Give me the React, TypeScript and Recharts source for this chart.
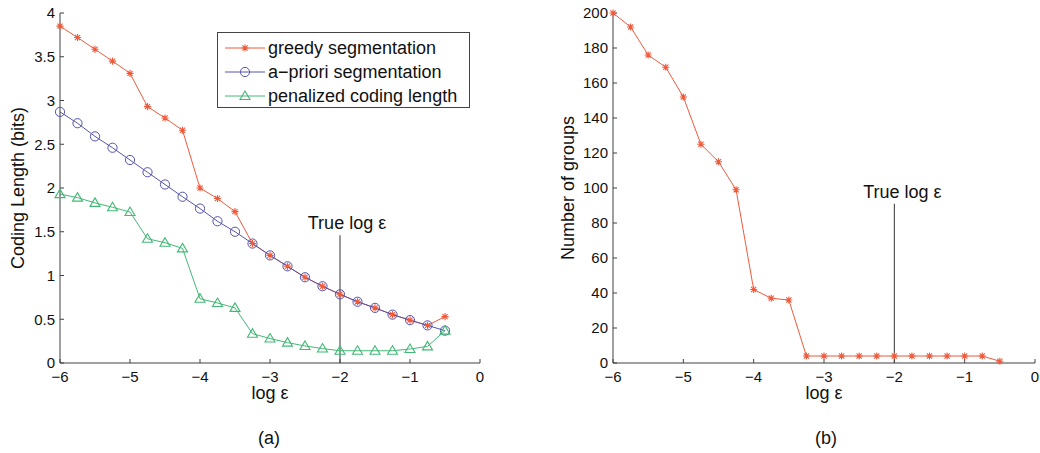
import React from 'react';
import { LineChart, Line, XAxis, YAxis, ReferenceLine, Legend } from 'recharts';

// log epsilon sample positions
const logEps = [-6, -5.75, -5.5, -5.25, -5, -4.75, -4.5, -4.25, -4, -3.75, -3.5, -3.25, -3, -2.75, -2.5, -2.25, -2, -1.75, -1.5, -1.25, -1, -0.75, -0.5];

// (a) coding length (bits)
const greedy = [3.85, 3.72, 3.585, 3.45, 3.31, 2.93, 2.8, 2.66, 2.0, 1.88, 1.73, 1.365, 1.23, 1.105, 0.98, 0.877, 0.785, 0.7, 0.63, 0.553, 0.49, 0.43, 0.53];
const apriori = [2.87, 2.74, 2.59, 2.46, 2.32, 2.18, 2.04, 1.9, 1.765, 1.62, 1.5, 1.365, 1.23, 1.105, 0.98, 0.877, 0.785, 0.7, 0.63, 0.553, 0.49, 0.43, 0.37];
const penalized = [1.93, 1.89, 1.83, 1.78, 1.725, 1.42, 1.375, 1.31, 0.735, 0.686, 0.63, 0.335, 0.28, 0.233, 0.195, 0.165, 0.14, 0.14, 0.14, 0.14, 0.16, 0.19, 0.37];

// (b) number of groups
const groups = [200, 192, 176, 169, 152, 125, 115, 99, 42, 37, 36, 4, 4, 4, 4, 4, 4, 4, 4, 4, 4, 4, 1];

const xTicks = [-6, -5, -4, -3, -2, -1, 0];
const yTicksA = [0, 0.5, 1, 1.5, 2, 2.5, 3, 3.5, 4];
const yTicksB = [0, 20, 40, 60, 80, 100, 120, 140, 160, 180, 200];

const trueLogEps = -2;
const trueTopA = 1.46;
const trueTopB = 91;

const seriesA = [
  { key: 'greedy', name: 'greedy segmentation', color: '#ee5a3c', marker: 'star' },
  { key: 'apriori', name: 'a\u2212priori segmentation', color: '#5454ae', marker: 'circle' },
  { key: 'penalized', name: 'penalized coding length', color: '#43b976', marker: 'triangle' },
];

const dataA = logEps.map((x, i) => ({ x, greedy: greedy[i], apriori: apriori[i], penalized: penalized[i] }));
const dataB = logEps.map((x, i) => ({ x, groups: groups[i] }));

const FONT = '"Liberation Sans", Arial, Helvetica, sans-serif';
const AXIS = '#404040';
const TEXT = '#111';

const fmt = (v: number) => String(v).replace('-', '\u2212');

function markerPath(kind: string, cx: number, cy: number) {
  if (kind === 'star') {
    const r = 3.6;
    const d = r * 0.72;
    return `M${cx - r},${cy}H${cx + r}M${cx},${cy - r}V${cy + r}M${cx - d},${cy - d}L${cx + d},${cy + d}M${cx - d},${cy + d}L${cx + d},${cy - d}`;
  }
  if (kind === 'triangle') {
    return `M${cx},${cy - 5}L${cx + 5},${cy + 3.5}L${cx - 5},${cy + 3.5}Z`;
  }
  return '';
}

function makeDot(kind: string, color: string) {
  return (props: any) => {
    const { cx, cy, index } = props;
    if (cx == null || cy == null) return <g key={`d${index}`} />;
    if (kind === 'circle') {
      return <circle key={`d${index}`} cx={cx} cy={cy} r={4.6} stroke={color} strokeWidth={1} fill="none" />;
    }
    return <path key={`d${index}`} d={markerPath(kind, cx, cy)} stroke={color} strokeWidth={1.1} fill="none" />;
  };
}

function LegendBox() {
  return (
    <div
      style={{
        border: '1px solid #444',
        background: '#fff',
        width: 251,
        height: 74,
        boxSizing: 'content-box',
        fontFamily: FONT,
        fontSize: 18,
        color: TEXT,
      }}
    >
      {seriesA.map((s, i) => (
        <div key={s.key} style={{ position: 'relative', height: 24, marginTop: i === 0 ? 3 : 0, display: 'flex', alignItems: 'center' }}>
          <svg width={50} height={24} style={{ display: 'block', flex: 'none' }}>
            <line x1={7} y1={12} x2={47} y2={12} stroke={s.color} strokeWidth={1} />
            {s.marker === 'circle' ? (
              <circle cx={27} cy={12} r={4.6} stroke={s.color} fill="none" />
            ) : (
              <path d={markerPath(s.marker, 27, 12)} stroke={s.color} fill="none" strokeWidth={1.1} />
            )}
          </svg>
          <span style={{ whiteSpace: 'nowrap', lineHeight: '24px' }}>{s.name}</span>
        </div>
      ))}
    </div>
  );
}

const tickStyle = { fontSize: 15, fill: TEXT, fontFamily: FONT };
const labelStyle = { fontSize: 18, fill: TEXT, fontFamily: FONT };

export default function App() {
  return (
    <div style={{ position: 'absolute', left: 0, top: 0, width: 1040, height: 453, background: '#fff', fontFamily: FONT }}>
      <div style={{ position: 'absolute', left: 0, top: 0 }}>
        <LineChart width={520} height={453} data={dataA} margin={{ top: 13, right: 40, bottom: 0, left: 0 }}>
          <XAxis
            dataKey="x"
            type="number"
            domain={[-6, 0]}
            ticks={xTicks}
            tickFormatter={fmt}
            height={90}
            stroke={AXIS}
            tickSize={-4}
            tickMargin={12}
            tick={tickStyle}
            label={{ value: 'log \u03b5', position: 'insideTop', offset: 23, style: labelStyle }}
          />
          <YAxis
            type="number"
            domain={[0, 4]}
            ticks={yTicksA}
            tickFormatter={fmt}
            width={60}
            stroke={AXIS}
            tickSize={-4}
            tickMargin={9}
            tick={tickStyle}
            label={{ value: 'Coding Length (bits)', angle: -90, position: 'insideLeft', offset: 18, style: { ...labelStyle, textAnchor: 'middle' } }}
          />
          <ReferenceLine
            segment={[{ x: trueLogEps, y: 0 }, { x: trueLogEps, y: trueTopA }]}
            stroke="#333"
            strokeWidth={1}
            label={{ value: 'True log \u03b5', position: 'top', offset: 6, dx: 7, style: labelStyle }}
          />
          {seriesA.map((s) => (
            <Line
              key={s.key}
              dataKey={s.key}
              name={s.name}
              stroke={s.color}
              strokeWidth={1}
              dot={makeDot(s.marker, s.color)}
              activeDot={false}
              isAnimationActive={false}
              type="linear"
            />
          ))}
          <Legend
            layout="horizontal"
            verticalAlign="middle"
            align="center"
            content={() => <LegendBox />}
            wrapperStyle={{ position: 'absolute', left: 217, top: 32, width: 253, height: 76 }}
          />
        </LineChart>
      </div>

      <div style={{ position: 'absolute', left: 520, top: 0 }}>
        <LineChart width={520} height={453} data={dataB} margin={{ top: 13, right: 5, bottom: 0, left: 0 }}>
          <XAxis
            dataKey="x"
            type="number"
            domain={[-6, 0]}
            ticks={xTicks}
            tickFormatter={fmt}
            height={90}
            stroke={AXIS}
            tickSize={-4}
            tickMargin={12}
            tick={tickStyle}
            label={{ value: 'log \u03b5', position: 'insideTop', offset: 23, style: labelStyle }}
          />
          <YAxis
            type="number"
            domain={[0, 200]}
            ticks={yTicksB}
            width={93}
            stroke={AXIS}
            tickSize={-4}
            tickMargin={9}
            tick={tickStyle}
            label={{ value: 'Number of groups', angle: -90, position: 'insideLeft', offset: 48, style: { ...labelStyle, textAnchor: 'middle' } }}
          />
          <ReferenceLine
            segment={[{ x: trueLogEps, y: 0 }, { x: trueLogEps, y: trueTopB }]}
            stroke="#333"
            strokeWidth={1}
            label={{ value: 'True log \u03b5', position: 'top', offset: 6, dx: 8, style: labelStyle }}
          />
          <Line
            dataKey="groups"
            name="groups"
            stroke="#ee5a3c"
            strokeWidth={1}
            dot={makeDot('star', '#ee5a3c')}
            activeDot={false}
            isAnimationActive={false}
            type="linear"
          />
        </LineChart>
      </div>

      <div style={{ position: 'absolute', left: 269, top: 438, transform: 'translate(-50%, -50%)', fontSize: 18, color: TEXT, fontFamily: FONT }}>(a)</div>
      <div style={{ position: 'absolute', left: 826, top: 438, transform: 'translate(-50%, -50%)', fontSize: 18, color: TEXT, fontFamily: FONT }}>(b)</div>
    </div>
  );
}
